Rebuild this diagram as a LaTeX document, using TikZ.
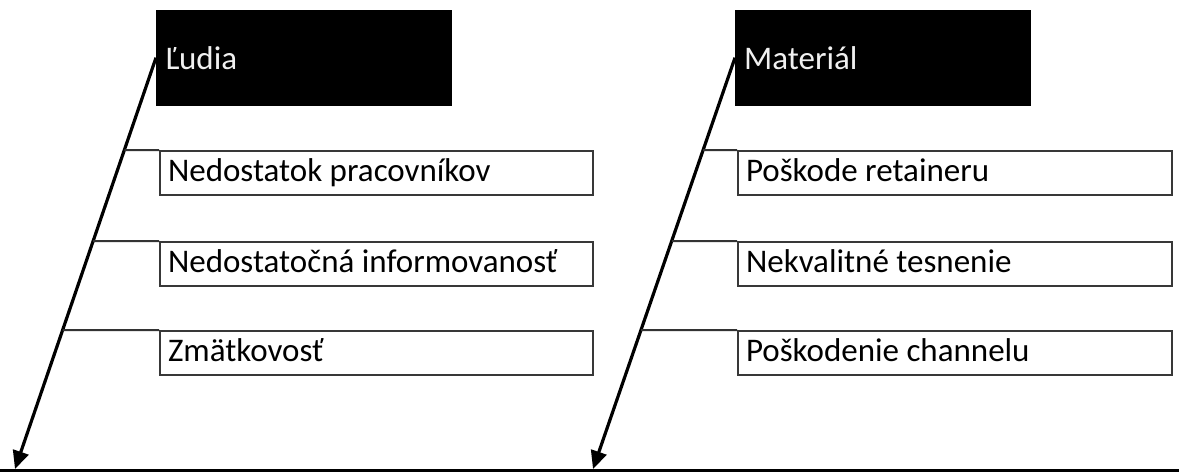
\documentclass[tikz,border=0pt]{standalone}
\usepackage{fontspec}
\setmainfont{Carlito}
\usetikzlibrary{arrows.meta}
\tikzset{
  header/.style={draw=black, fill=black, text=white!94!black, anchor=north west,
    minimum width=295pt, minimum height=95pt, inner xsep=9pt,
    text height=23pt, text depth=0pt,
    font=\fontsize{33}{39}\selectfont},
  cause/.style={draw=black!78, line width=2pt, anchor=north west,
    minimum width=433pt, minimum height=44pt, inner xsep=8pt,
    text height=23pt, text depth=6pt,
    font=\fontsize{33}{39}\selectfont},
  bone/.style={line width=3.2pt, -{Triangle[length=18pt,width=16pt]}},
  rib/.style={draw=black!80, line width=2pt},
  spine/.style={line width=3.5pt}
}
% left-aligned text filling a fixed width
\newcommand{\lefttext}[2]{\makebox[#1][l]{#2}}
\begin{document}
\begin{tikzpicture}[x=1pt,y=-1pt]
\useasboundingbox (0,0) rectangle (1179,472);

% category headers
\node[header] (h1) at (156,10) {\lefttext{277pt}{Ľudia}};
\node[header] (h2) at (735,10) {\lefttext{277pt}{Materiál}};

% arrow tips on the main spine
\coordinate (t1) at (15,469);
\coordinate (t2) at (593,469);
\coordinate (sL) at (0,470.5);
\coordinate (sR) at (1179,470.5);

% causes
\node[cause] (a1) at (159,150) {\lefttext{417pt}{Nedostatok pracovníkov}};
\node[cause] (a2) at (159,241) {\lefttext{417pt}{Nedostatočná informovanosť}};
\node[cause] (a3) at (159,330) {\lefttext{417pt}{Zmätkovosť}};
\node[cause] (b1) at (737,150) {\lefttext{418pt}{Poškode retaineru}};
\node[cause] (b2) at (737,241) {\lefttext{418pt}{Nekvalitné tesnenie}};
\node[cause] (b3) at (737,330) {\lefttext{418pt}{Poškodenie channelu}};

% main spine and category bones
\draw[spine] (sL) -- (sR);
\draw[bone] (h1.west) -- (t1);
\draw[bone] (h2.west) -- (t2);

% ribs joining each cause to its bone
\foreach \c in {a1,a2,a3}{
  \coordinate (j\c) at (intersection of h1.west--t1 and \c.north west--\c.north east);
  \draw[rib] (j\c) -- (\c.north west);
}
\foreach \c in {b1,b2,b3}{
  \coordinate (j\c) at (intersection of h2.west--t2 and \c.north west--\c.north east);
  \draw[rib] (j\c) -- (\c.north west);
}
\end{tikzpicture}
\end{document}
